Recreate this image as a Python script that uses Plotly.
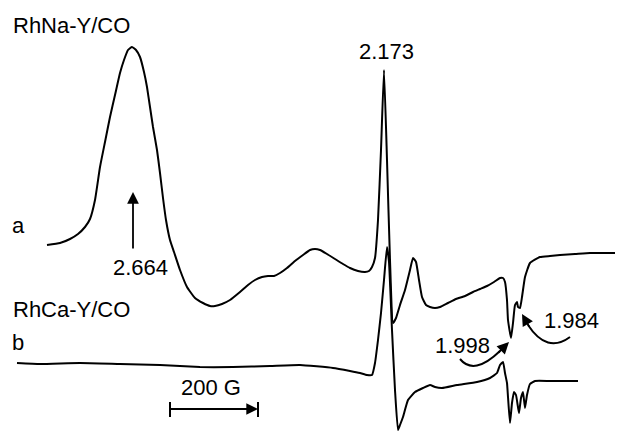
import plotly.graph_objects as go

# Trace a: RhNa-Y/CO (field position, screen-unit signal; larger = lower on page)
field_a = [47, 60, 70, 78, 85, 90, 95, 100, 105, 110, 115, 120, 124, 128, 132, 136, 140, 144,
           147, 150, 153, 157, 160, 163, 166, 170, 174, 180, 187, 195, 203, 210, 215, 222, 230,
           240, 248, 255, 262, 268, 274, 280, 287, 295, 303, 310, 315, 320, 327, 335, 343, 350,
           358, 365, 369, 372, 375, 378, 381, 384, 387, 390, 393, 396, 400, 405, 410, 413, 416,
           419, 422, 426, 430, 435, 440, 448, 456, 465, 473, 480, 487, 494, 500, 503, 505, 507,
           508, 511, 513, 515, 517, 518, 520, 522, 525, 530, 540, 550, 560, 575, 590, 605, 623]
signal_a = [245, 243, 239, 234, 227, 219, 200, 167, 142, 117, 95, 73, 60, 50, 47, 50, 57, 72,
            87, 107, 127, 150, 173, 198, 220, 240, 252, 270, 287, 298, 303, 306, 306, 304, 300,
            292, 285, 280, 277, 276, 276, 273, 268, 261, 255, 250, 249, 250, 254, 259, 264, 268,
            271, 272, 271, 267, 258, 220, 150, 70, 160, 260, 323, 318, 305, 290, 270, 258, 262,
            280, 297, 305, 307, 308, 307, 303, 299, 296, 292, 289, 286, 282, 278, 278, 282, 300,
            320, 338, 323, 305, 302, 307, 308, 297, 277, 263, 257, 256, 255, 254, 253, 253, 253]

# Trace b: RhCa-Y/CO
field_b = [17, 40, 80, 120, 160, 200, 233, 270, 300, 333, 350, 360, 367, 372, 375, 378, 381,
           384, 387, 389, 392, 395, 398, 400, 403, 408, 415, 423, 430, 435, 442, 457, 477, 490,
           497, 500, 503, 505, 507, 508, 510, 512, 514, 516, 519, 521, 523, 525, 527, 530, 535,
           550, 578]
signal_b = [363, 364, 363, 364, 365, 367, 367, 366, 365, 368, 371, 373, 375, 375, 363, 340, 313,
            280, 247, 262, 330, 390, 430, 425, 417, 400, 392, 388, 385, 387, 388, 385, 382, 378,
            373, 365, 362, 373, 383, 397, 423, 403, 392, 395, 413, 398, 392, 408, 395, 384, 381,
            381, 381]

# Labels
g_labels = ["2.173", "2.664", "1.998", "1.984"]
sample_labels = ["RhNa-Y/CO", "RhCa-Y/CO"]
trace_letters = ["a", "b"]
scale_label = "200 G"

FONT = dict(family="Liberation Sans, Arial, sans-serif", size=22, color="black")
LINE = dict(color="black", width=2)

fig = go.Figure()
fig.add_trace(go.Scatter(x=field_a, y=signal_a, mode="lines",
                         line=dict(color="black", width=2, shape="spline", smoothing=0.4),
                         hoverinfo="skip", showlegend=False))
fig.add_trace(go.Scatter(x=field_b, y=signal_b, mode="lines",
                         line=dict(color="black", width=2, shape="spline", smoothing=0.4),
                         hoverinfo="skip", showlegend=False))

ann = []
def text(t, x, y, xanchor="center"):
    ann.append(dict(text=t, x=x, y=y, xref="x", yref="y", showarrow=False,
                    xanchor=xanchor, yanchor="middle", font=FONT))

def arrow(x, y, ax, ay):
    ann.append(dict(text="", x=x, y=y, ax=ax, ay=ay, xref="x", yref="y", axref="x", ayref="y",
                    showarrow=True, arrowhead=2, arrowsize=1.3, arrowwidth=1.8, arrowcolor="black"))

text(sample_labels[0], 11, 25, "left")
text(sample_labels[1], 11, 309, "left")
text(trace_letters[0], 18, 225)
text(trace_letters[1], 18, 342)
text(g_labels[0], 386, 51)
text(g_labels[1], 140, 267)
text(g_labels[2], 462, 345)
text(g_labels[3], 571, 320)
text(scale_label, 211, 387)

# 2.664 arrow
arrow(133, 192, 133, 250)
# curved arrows
arrow(509, 342, 497, 354)
arrow(522, 314, 530, 328)
# scale bar arrowhead
arrow(258, 409, 236, 409)

shapes = [
    dict(type="path", path="M 460,359 Q 474,376 500,351", xref="x", yref="y", line=LINE),
    dict(type="path", path="M 570,337 Q 547,354 528,325", xref="x", yref="y", line=LINE),
    dict(type="line", x0=170, y0=409, x1=250, y1=409, xref="x", yref="y", line=LINE),
    dict(type="line", x0=170, y0=402, x1=170, y1=417, xref="x", yref="y", line=LINE),
    dict(type="line", x0=258, y0=402, x1=258, y1=417, xref="x", yref="y", line=LINE),
]

# page body has an 8px margin; offset the axis ranges so the drawing lands where it should
OFF = 8
fig.update_layout(
    width=623, height=432, margin=dict(l=0, r=0, t=0, b=0),
    paper_bgcolor="white", plot_bgcolor="white",
    xaxis=dict(range=[OFF, 623 + OFF], visible=False, fixedrange=True),
    yaxis=dict(range=[432 + OFF, OFF], visible=False, fixedrange=True),
    annotations=ann, shapes=shapes,
)
fig.write_html("out.html")
